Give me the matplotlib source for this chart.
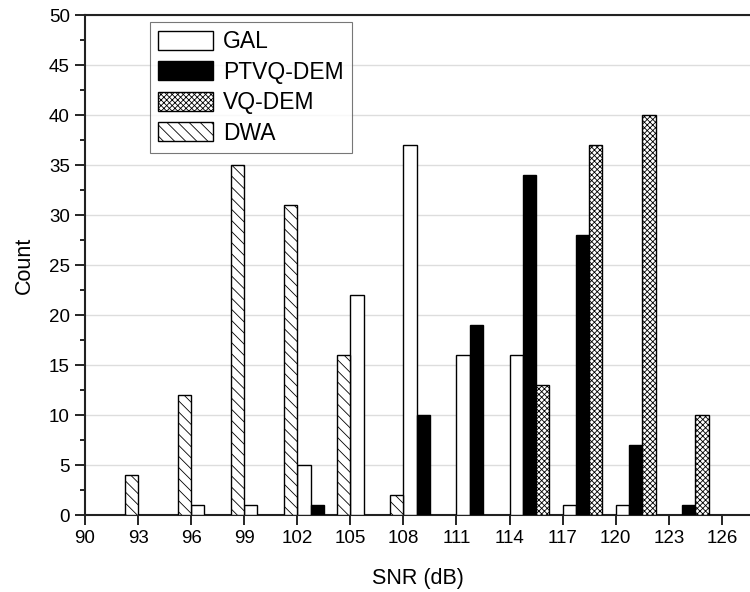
import numpy as np
import matplotlib
matplotlib.use("Agg")
import matplotlib.pyplot as plt

plt.rcParams['font.family'] = ['Liberation Sans', 'DejaVu Sans']
plt.rcParams['hatch.linewidth'] = 0.6

# SNR bin positions (dB)
snr = [93, 96, 99, 102, 105, 108, 111, 114, 117, 120, 123, 126]

# counts per bin
dwa = [4, 12, 35, 31, 16, 2, 0, 0, 0, 0, 0, 0]
gal = [0, 1, 1, 5, 22, 37, 16, 16, 1, 1, 0, 0]
ptvq = [0, 0, 0, 1, 0, 10, 19, 34, 28, 7, 1, 0]
vq = [0, 0, 0, 0, 0, 0, 0, 13, 37, 40, 10, 0]

x_ticks = list(range(90, 127, 3))
y_ticks = list(range(0, 51, 5))

fig = plt.figure(figsize=(7.5, 5.92), dpi=100)
ax = fig.add_axes([85 / 750, 77 / 592, 665 / 750, 500 / 592])

x = np.array(snr, dtype=float)
w = 0.75

def draw(vals, offset, label, **kw):
    v = np.array(vals, dtype=float)
    mask = v > 0
    return ax.bar(x[mask] + offset, v[mask], width=w, align='edge',
                  edgecolor='black', linewidth=1.0, label=label, zorder=3, **kw)

b_gal = draw(gal, 0.0, 'GAL', facecolor='white')
b_ptvq = draw(ptvq, w, 'PTVQ-DEM', facecolor='black')
b_vq = draw(vq, 2 * w, 'VQ-DEM', facecolor='white', hatch='xxxxxx')
b_dwa = draw(dwa, -w, 'DWA', facecolor='white', hatch='\\\\\\')

ax.set_xlim(90, 90 + 665 / 17.69)
ax.set_ylim(0, 50)
ax.set_xticks(x_ticks)
ax.set_yticks(y_ticks)
ax.set_yticks(np.arange(2.5, 50, 5), minor=True)
ax.tick_params(axis='both', which='major', direction='out', length=7,
               width=1.2, labelsize=13.5, pad=4)
ax.tick_params(axis='y', which='minor', direction='out', length=3.5, width=1.2)

ax.grid(axis='y', color='#dddddd', linewidth=1.0, zorder=0)
ax.set_axisbelow(True)

for s in ['left', 'bottom', 'top']:
    ax.spines[s].set_linewidth(1.5)
    ax.spines[s].set_color('#222222')
ax.spines['right'].set_visible(False)

ax.set_xlabel('SNR (dB)', fontsize=15.5, labelpad=15)
ax.set_ylabel('Count', fontsize=15.5, labelpad=10)

leg = ax.legend(handles=[b_gal, b_ptvq, b_vq, b_dwa], loc='upper left',
                bbox_to_anchor=(0.0977, 0.986), borderaxespad=0,
                fontsize=16.5, frameon=True, fancybox=False,
                edgecolor='#555555', handlelength=2.4, handleheight=0.9,
                labelspacing=0.33, borderpad=0.35, handletextpad=0.45)
leg.get_frame().set_linewidth(0.8)

fig.savefig('out.png', dpi=100)
